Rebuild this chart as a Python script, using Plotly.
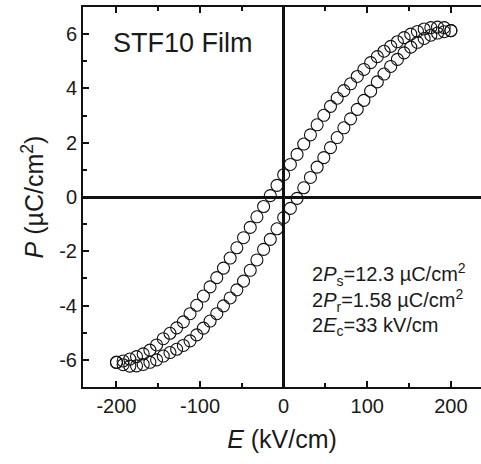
import plotly.graph_objects as go

# Electric field grid (kV/cm), descending branch: +200 -> -200
E_down = [200, 192, 184, 176, 168, 160, 152, 144, 136, 128, 120, 112, 104, 96, 88, 80,
          72, 64, 56, 48, 40, 32, 24, 16, 8, 0, -8, -16, -24, -32, -40, -48, -56, -64,
          -72, -80, -88, -96, -104, -112, -120, -128, -136, -144, -152, -160, -168,
          -176, -184, -192, -200]
P_down = [6.13, 6.24, 6.26, 6.24, 6.19, 6.10, 6.00, 5.87, 5.72, 5.55, 5.37, 5.17, 4.95,
          4.70, 4.44, 4.17, 3.92, 3.64, 3.34, 3.01, 2.66, 2.29, 1.95, 1.57, 1.20, 0.82,
          0.43, 0.05, -0.35, -0.73, -1.12, -1.50, -1.87, -2.25, -2.62, -2.97, -3.31,
          -3.65, -3.99, -4.30, -4.60, -4.82, -5.02, -5.22, -5.45, -5.64, -5.78, -5.88,
          -5.97, -6.04, -6.10]

# Ascending branch: -200 -> +200
E_up = [-200, -192, -184, -176, -168, -160, -152, -144, -136, -128, -120, -112, -104,
        -96, -88, -80, -72, -64, -56, -48, -40, -32, -24, -16, -8, 0, 8, 16, 24, 32, 40,
        48, 56, 64, 72, 80, 88, 96, 104, 112, 120, 128, 136, 144, 152, 160, 168, 176,
        184, 192, 200]
P_up = [-6.08, -6.18, -6.23, -6.22, -6.17, -6.09, -6.00, -5.86, -5.73, -5.61, -5.47,
        -5.30, -5.08, -4.83, -4.57, -4.30, -4.01, -3.72, -3.42, -3.10, -2.70, -2.32,
        -1.93, -1.56, -1.17, -0.76, -0.42, -0.05, 0.34, 0.72, 1.10, 1.45, 1.82, 2.19,
        2.55, 2.88, 3.23, 3.56, 3.90, 4.24, 4.53, 4.81, 5.07, 5.31, 5.52, 5.70, 5.84,
        5.96, 6.04, 6.09, 6.13]

x_ticks = [-200, -100, 0, 100, 200]
y_ticks = [-6, -4, -2, 0, 2, 4, 6]

FONT = "Liberation Sans, Arial, sans-serif"
TXT = "#1a1a1a"

fig = go.Figure()
marker = dict(symbol="circle-open", size=12, color="#111111", line=dict(width=1.1))
fig.add_trace(go.Scatter(x=E_down, y=P_down, mode="markers", marker=marker,
                         showlegend=False, name="descending"))
fig.add_trace(go.Scatter(x=E_up, y=P_up, mode="markers", marker=marker,
                         showlegend=False, name="ascending"))

fig.update_layout(
    width=481, height=464,
    margin=dict(l=83, r=0, t=7, b=77, pad=0),
    paper_bgcolor="white", plot_bgcolor="white",
    font=dict(family=FONT, color=TXT, size=20),
    xaxis=dict(
        range=[-240, 236], tickvals=x_ticks, ticktext=[str(v) for v in x_ticks],
        ticks="inside", ticklen=6, tickwidth=2, tickcolor="#111",
        showline=True, linewidth=2, linecolor="#111", mirror="ticks",
        showgrid=False, zeroline=True, zerolinecolor="#111", zerolinewidth=3,
        tickfont=dict(size=20, family=FONT, color=TXT),
        minor=dict(dtick=50, tick0=0, ticks="inside", ticklen=4, tickwidth=2,
                   tickcolor="#111", showgrid=False),
        title=dict(text="<i>E</i> (kV/cm)", font=dict(size=25, family=FONT, color=TXT),
                   standoff=14),
    ),
    yaxis=dict(
        range=[-7, 7], tickvals=y_ticks, ticktext=[str(v) for v in y_ticks],
        ticks="inside", ticklen=6, tickwidth=2, tickcolor="#111",
        showline=True, linewidth=2, linecolor="#111",
        showgrid=False, zeroline=True, zerolinecolor="#111", zerolinewidth=3,
        tickfont=dict(size=20, family=FONT, color=TXT),
        minor=dict(dtick=1, tick0=0, ticks="inside", ticklen=4, tickwidth=2,
                   tickcolor="#111", showgrid=False),
        title=dict(text="<i>P</i> (µC/cm<sup>2</sup>)",
                   font=dict(size=25, family=FONT, color=TXT), standoff=8),
    ),
)

fig.add_annotation(x=0.07, y=0.905, xref="paper", yref="paper", xanchor="left",
                   yanchor="middle", showarrow=False, text="STF10 Film",
                   font=dict(size=27, family=FONT, color=TXT))
notes = ["2<i>P</i><sub>s</sub>=12.3 µC/cm<sup>2</sup>",
         "2<i>P</i><sub>r</sub>=1.58 µC/cm<sup>2</sup>",
         "2<i>E</i><sub>c</sub>=33 kV/cm"]
for i, t in enumerate(notes):
    fig.add_annotation(x=0.571, y=0.295 - i * 0.068, xref="paper", yref="paper",
                       xanchor="left", yanchor="middle", showarrow=False, text=t,
                       font=dict(size=20, family=FONT, color=TXT))

fig.write_html("out.html")
